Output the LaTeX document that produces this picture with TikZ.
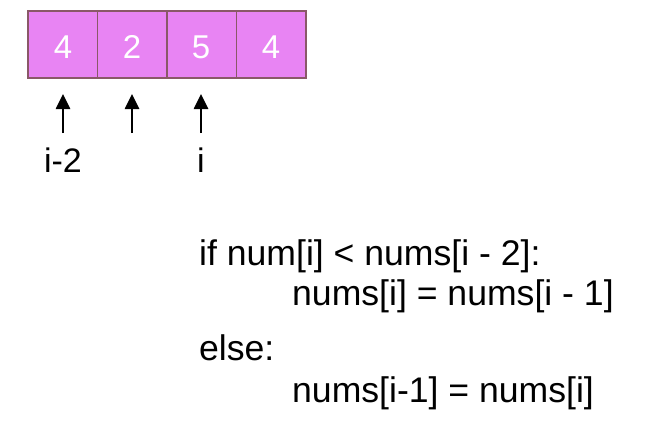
\documentclass[tikz,border=0pt]{standalone}
\usepackage{fontspec}
\setmainfont{Liberation Sans}
\usetikzlibrary{arrows.meta}
\definecolor{cellfill}{HTML}{E884F3}
\definecolor{cellline}{HTML}{8A5868}
\begin{document}
\begin{tikzpicture}[x=1pt,y=-1pt,
  cell/.style={draw=cellline,line width=1.3pt,fill=cellfill,minimum width=69.5pt,minimum height=67pt,inner sep=0pt,outer sep=0pt},
  digit/.style={text=white,font=\fontsize{33}{39}\selectfont,anchor=base,inner sep=0pt},
  lbl/.style={font=\fontsize{34}{40}\selectfont,anchor=base,inner sep=0pt},
  code/.style={font=\fontsize{35.6}{42}\selectfont,anchor=base west,inner sep=0pt},
  ptr/.style={line width=2.6pt,-{Triangle[width=14pt,length=15pt]}}]
\useasboundingbox (0,0) rectangle (667,424);
\fill[white] (0,0) rectangle (667,424);
\node[cell] (c1) at (62.75,44.5) {};
\node[cell] (c2) at (132.25,44.5) {};
\node[cell] (c3) at (201.75,44.5) {};
\node[cell] (c4) at (271.25,44.5) {};
\node[digit] (d1) at (63,58) {4};
\node[digit] (d2) at (132,58) {2};
\node[digit] (d3) at (201,58) {5};
\node[digit] (d4) at (271,58) {4};
\coordinate (s1) at (63,133);
\coordinate (s2) at (132,133);
\coordinate (s3) at (201,133);
\coordinate (t1) at (63,94);
\coordinate (t2) at (132,94);
\coordinate (t3) at (201,94);
\draw[ptr] (s1) -- (t1);
\draw[ptr] (s2) -- (t2);
\draw[ptr] (s3) -- (t3);
\node[lbl] (l1) at (63,172) {i-2};
\node[lbl] (l3) at (201,172) {i};
\node[code] (k1) at (199,265) {if num[i] < nums[i - 2]:};
\node[code] (k2) at (292,305) {nums[i] = nums[i - 1]};
\node[code] (k3) at (199,360) {else:};
\node[code] (k4) at (292,402) {nums[i-1] = nums[i]};
\end{tikzpicture}
\end{document}
